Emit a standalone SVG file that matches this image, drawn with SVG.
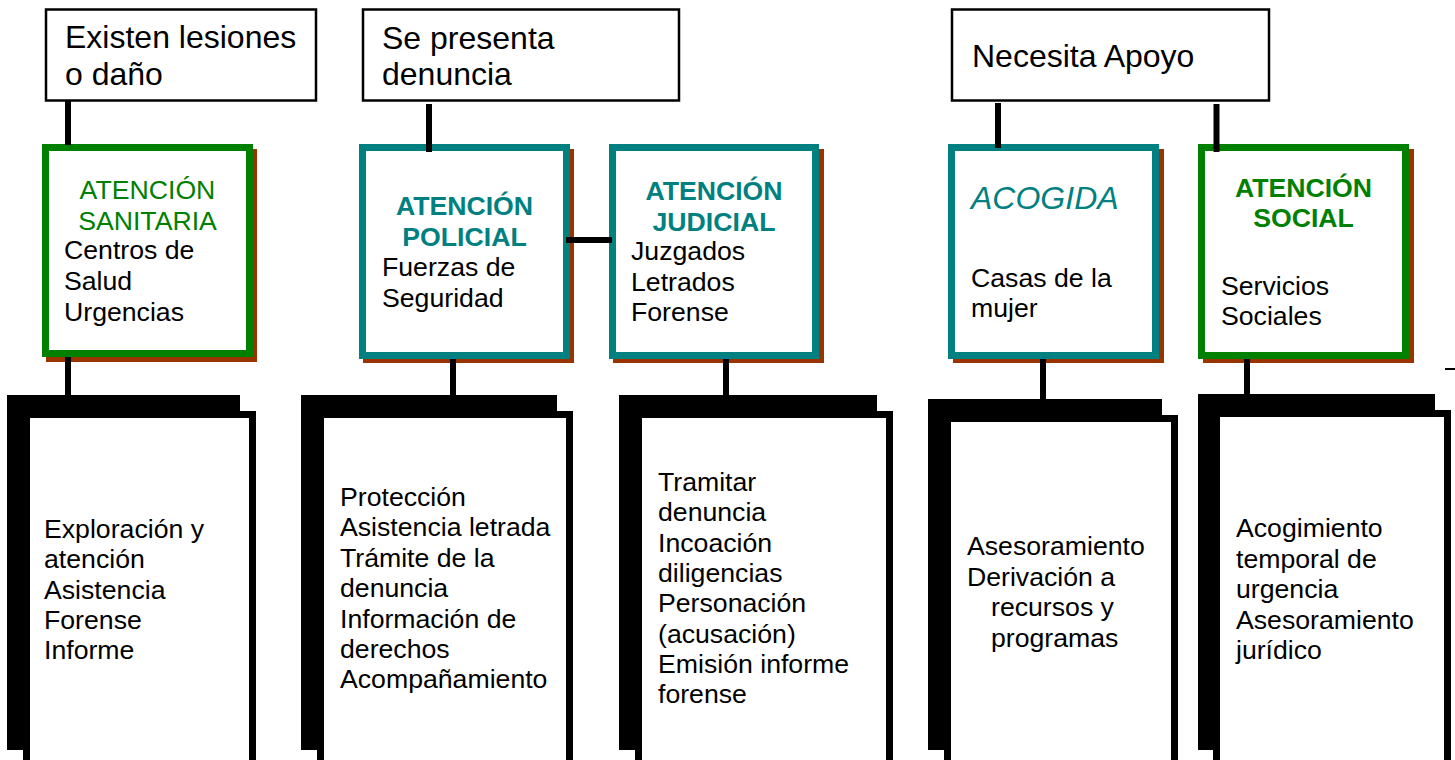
<svg xmlns="http://www.w3.org/2000/svg" width="1455" height="760" viewBox="0 0 1455 760">
<style>
text { font-family: "Liberation Sans", Arial, sans-serif; }
.q { fill: #fff; stroke: #000; stroke-width: 2.5; }
.qt { font-size: 32px; fill: #000; }
.sh { fill: #993300; }
.bt { fill: #fff; stroke: #008080; stroke-width: 7; }
.bg { fill: #fff; stroke: #008000; stroke-width: 7; }
.t { font-size: 26.67px; fill: #000; }
.hd { font-size: 26.67px; text-anchor: middle; }
.teal { fill: #008080; }
.green { fill: #008000; }
.b { font-weight: bold; }
.back { fill: #000; }
.front { fill: #fff; stroke: #000; stroke-width: 7; }
.c { stroke: #000; stroke-width: 6; fill: none; }
</style>

<g id="q-lesiones">
  <rect class="q" x="46" y="9.5" width="270" height="91"/>
  <text class="qt" x="65" y="48">Existen lesiones</text>
  <text class="qt" x="65" y="85">o daño</text>
</g>
<g id="q-denuncia">
  <rect class="q" x="363" y="9.5" width="316" height="91"/>
  <text class="qt" x="382" y="49">Se presenta</text>
  <text class="qt" x="382" y="85">denuncia</text>
</g>
<g id="q-apoyo">
  <rect class="q" x="952" y="9.5" width="317" height="91"/>
  <text class="qt" x="972" y="67">Necesita Apoyo</text>
</g>

<g id="n-sanitaria">
  <rect class="sh" x="46" y="149" width="211" height="213"/>
  <rect class="bg" x="45.5" y="147.5" width="204" height="206"/>
  <text class="hd green" x="147.5" y="199">ATENCIÓN</text>
  <text class="hd green" x="147.5" y="230">SANITARIA</text>
  <text class="t" x="64" y="259.3">Centros de</text>
  <text class="t" x="64" y="290">Salud</text>
  <text class="t" x="64" y="320.7">Urgencias</text>
</g>
<g id="n-policial">
  <rect class="sh" x="363" y="149" width="211" height="214"/>
  <rect class="bt" x="362.5" y="147.5" width="204" height="208"/>
  <text class="hd teal b" x="464.5" y="215">ATENCIÓN</text>
  <text class="hd teal b" x="464.5" y="245.7">POLICIAL</text>
  <text class="t" x="382" y="276">Fuerzas de</text>
  <text class="t" x="382" y="306.6">Seguridad</text>
</g>
<g id="n-judicial">
  <rect class="sh" x="613" y="149" width="211" height="214"/>
  <rect class="bt" x="612.5" y="147.5" width="203" height="208"/>
  <text class="hd teal b" x="714" y="200">ATENCIÓN</text>
  <text class="hd teal b" x="714" y="230.5">JUDICIAL</text>
  <text class="t" x="631" y="260">Juzgados</text>
  <text class="t" x="631" y="290.7">Letrados</text>
  <text class="t" x="631" y="321.3">Forense</text>
</g>
<g id="n-acogida">
  <rect class="sh" x="953" y="149" width="211" height="214"/>
  <rect class="bt" x="951.5" y="147.5" width="204" height="208"/>
  <text class="teal" x="971" y="209" font-size="32" font-style="italic" font-family="Liberation Sans, Arial, sans-serif">ACOGIDA</text>
  <text class="t" x="971" y="286.7">Casas de la</text>
  <text class="t" x="971" y="316.7">mujer</text>
</g>
<g id="n-social">
  <rect class="sh" x="1203" y="149" width="211" height="214"/>
  <rect class="bg" x="1201.5" y="147.5" width="204" height="208"/>
  <text class="hd green b" x="1303.5" y="196.7">ATENCIÓN</text>
  <text class="hd green b" x="1303.5" y="227.3">SOCIAL</text>
  <text class="t" x="1221" y="295">Servicios</text>
  <text class="t" x="1221" y="325">Sociales</text>
</g>

<g id="d-sanitaria">
  <rect class="back" x="7" y="395" width="233" height="355"/>
  <rect class="front" x="26.5" y="414.5" width="226" height="400"/>
  <text class="t" x="44" y="538">Exploración y</text>
  <text class="t" x="44" y="568.3">atención</text>
  <text class="t" x="44" y="598.6">Asistencia</text>
  <text class="t" x="44" y="628.9">Forense</text>
  <text class="t" x="44" y="659.2">Informe</text>
</g>
<g id="d-policial">
  <rect class="back" x="301" y="395" width="256" height="355"/>
  <rect class="front" x="320.5" y="414.5" width="249" height="400"/>
  <text class="t" x="340" y="506">Protección</text>
  <text class="t" x="340" y="536.4">Asistencia letrada</text>
  <text class="t" x="340" y="566.8">Trámite de la</text>
  <text class="t" x="340" y="597.2">denuncia</text>
  <text class="t" x="340" y="627.6">Información de</text>
  <text class="t" x="340" y="658">derechos</text>
  <text class="t" x="340" y="688.4">Acompañamiento</text>
</g>
<g id="d-judicial">
  <rect class="back" x="619" y="395" width="258" height="355"/>
  <rect class="front" x="638.5" y="414.5" width="251" height="400"/>
  <text class="t" x="658" y="491">Tramitar</text>
  <text class="t" x="658" y="521.3">denuncia</text>
  <text class="t" x="658" y="551.6">Incoación</text>
  <text class="t" x="658" y="581.9">diligencias</text>
  <text class="t" x="658" y="612.2">Personación</text>
  <text class="t" x="658" y="642.5">(acusación)</text>
  <text class="t" x="658" y="672.8">Emisión informe</text>
  <text class="t" x="658" y="703.1">forense</text>
</g>
<g id="d-acogida">
  <rect class="back" x="928" y="399" width="234" height="351"/>
  <rect class="front" x="947.5" y="418.5" width="227" height="400"/>
  <text class="t" x="967" y="555">Asesoramiento</text>
  <text class="t" x="967" y="585.5">Derivación a</text>
  <text class="t" x="991" y="616">recursos y</text>
  <text class="t" x="991" y="646.5">programas</text>
</g>
<g id="d-social">
  <rect class="back" x="1198" y="394" width="237" height="356"/>
  <rect class="front" x="1216.5" y="413.5" width="231" height="400"/>
  <text class="t" x="1236" y="537">Acogimiento</text>
  <text class="t" x="1236" y="567.5">temporal de</text>
  <text class="t" x="1236" y="598">urgencia</text>
  <text class="t" x="1236" y="628.5">Asesoramiento</text>
  <text class="t" x="1236" y="659">jurídico</text>
</g>

<g id="connectors">
  <line class="c" x1="68" y1="101" x2="68" y2="145"/>
  <line class="c" x1="429" y1="104" x2="429" y2="152"/>
  <line class="c" x1="998" y1="103" x2="998" y2="148"/>
  <line class="c" x1="1216.5" y1="104" x2="1216.5" y2="152"/>
  <line class="c" x1="68" y1="357" x2="68" y2="396"/>
  <line class="c" x1="453" y1="359" x2="453" y2="396"/>
  <line class="c" x1="726" y1="359" x2="726" y2="396"/>
  <line class="c" x1="1043" y1="359" x2="1043" y2="400"/>
  <line class="c" x1="1247" y1="359" x2="1247" y2="395"/>
  <line class="c" x1="566" y1="240" x2="612" y2="240"/>
  <line stroke="#000" stroke-width="2" x1="1445" y1="369" x2="1455" y2="369"/>
</g>
</svg>
